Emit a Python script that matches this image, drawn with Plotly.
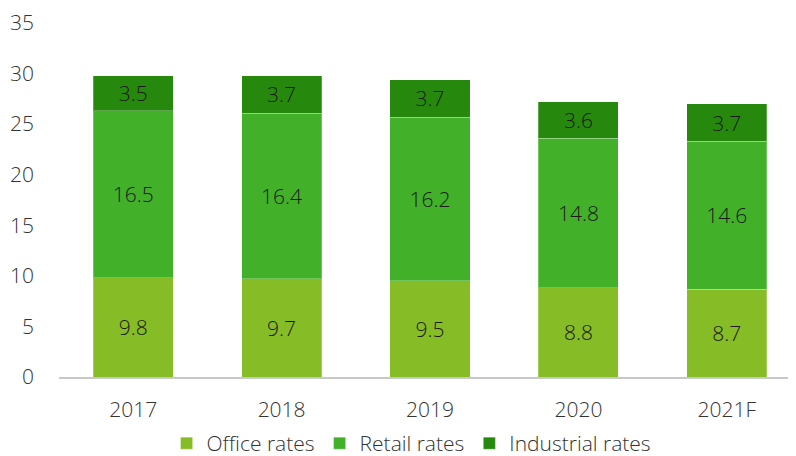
import plotly.graph_objects as go

years = ["2017", "2018", "2019", "2020", "2021F"]
office = [9.8, 9.7, 9.5, 8.8, 8.7]
retail = [16.5, 16.4, 16.2, 14.8, 14.6]
industrial = [3.5, 3.7, 3.7, 3.6, 3.7]
y_ticks = [0, 5, 10, 15, 20, 25, 30, 35]

series = [
    ("Office rates", office, "#86BC25"),
    ("Retail rates", retail, "#43B02A"),
    ("Industrial rates", industrial, "#26890D"),
]

FS = 21
FONT = "Open Sans"

fig = go.Figure()
for name, vals, color in series:
    fig.add_trace(go.Bar(
        x=years, y=vals, name=name,
        marker=dict(color=color, line=dict(color="rgba(255,255,255,0.25)", width=1)),
        text=[f"{v:.1f}" for v in vals], textposition="inside",
        insidetextanchor="middle",
        textfont=dict(family=FONT, size=FS, color="#1a1a1a", weight=300),
        constraintext="none",
    ))

fig.update_layout(
    barmode="stack", bargap=0.46,
    width=796, height=456,
    margin=dict(l=51, r=3, t=15, b=87),
    paper_bgcolor="white", plot_bgcolor="white",
    font=dict(family=FONT, size=FS, color="#333333", weight=300),
    uniformtext=dict(minsize=FS - 1, mode=False),
    showlegend=True,
    legend=dict(orientation="h", xref="container", x=0.507, xanchor="center",
                yref="container", y=0.045, yanchor="middle",
                bgcolor="rgba(0,0,0,0)",
                font=dict(family=FONT, size=FS, color="#333333", weight=300), traceorder="normal",
                itemwidth=30, tracegroupgap=0),
    xaxis=dict(showline=True, linecolor="#c8c8c8", linewidth=1.5, ticks="",
               automargin=False, ticklabelstandoff=13,
               tickfont=dict(family=FONT, size=FS, color="#333333", weight=300), showgrid=False),
    yaxis=dict(range=[0, 35], tickvals=y_ticks, showgrid=False, zeroline=False,
               automargin=False,
               showline=False, ticks="", ticklabelstandoff=24,
               tickfont=dict(family=FONT, size=FS, color="#333333", weight=300)),
)

fig.write_html("out.html")
